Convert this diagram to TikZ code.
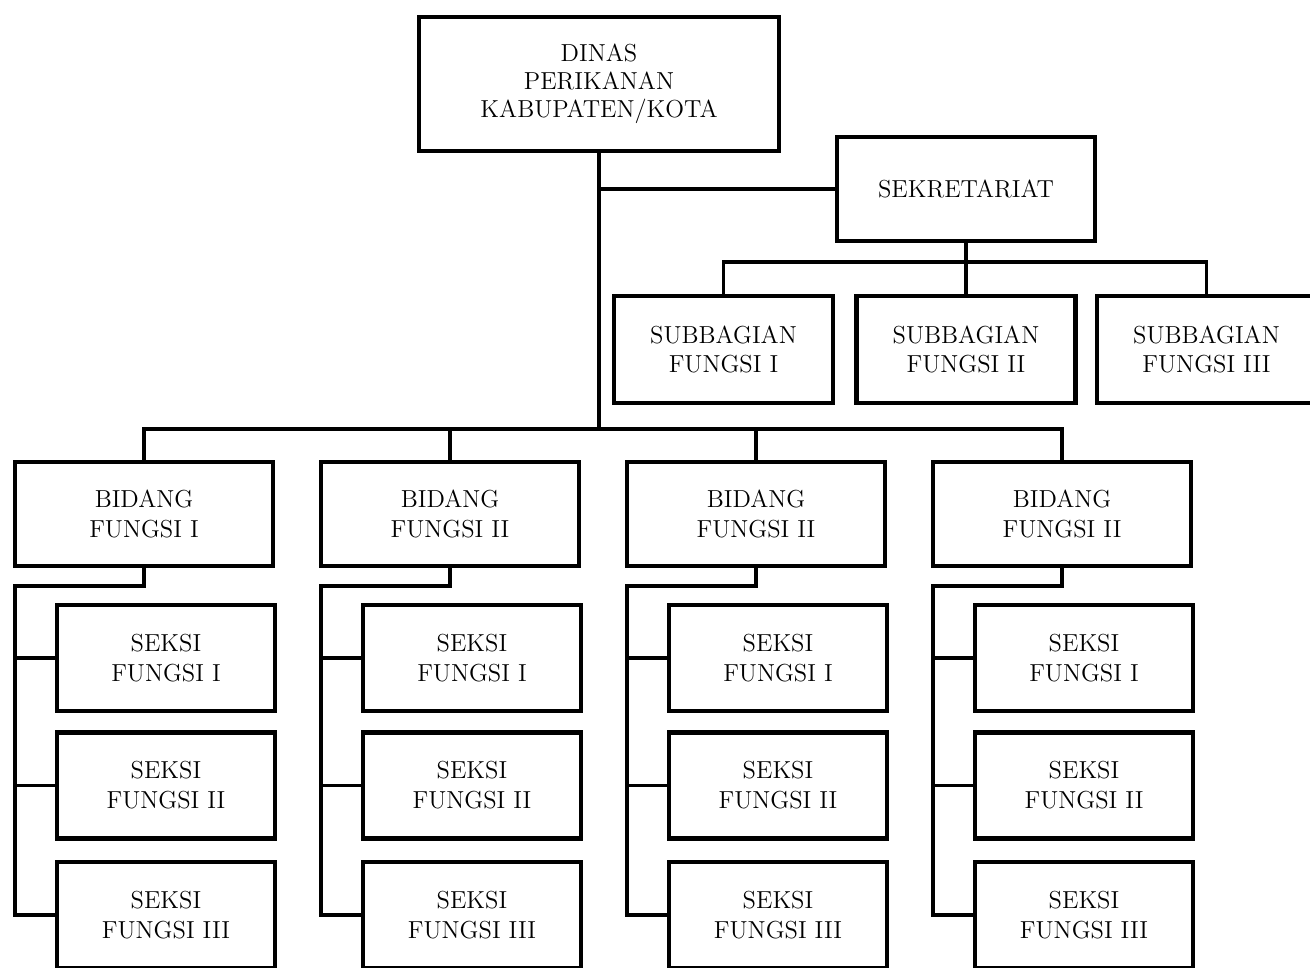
\documentclass[tikz,border=0pt]{standalone}
\usepackage{tikz}
\usetikzlibrary{positioning}

\begin{document}
\begin{tikzpicture}[x=0.02cm,y=-0.02cm]
\tikzstyle{every node}+=[inner sep=0pt,align=center,font=\fontsize{14}{17}\selectfont]
\tikzstyle{kotak}=[draw=black,line width=2.5pt]
\tikzstyle{lebar}=[kotak,minimum width=5.16cm,minimum height=2.08cm]
\tikzstyle{kecil}=[kotak,minimum width=4.38cm,minimum height=2.14cm]
\tikzstyle{seksi}=[kotak,minimum width=4.36cm,minimum height=2.12cm]
\tikzstyle{garis}=[black,line width=2.2pt]
\useasboundingbox (0,0) rectangle (1310,967);
\clip (0,0) rectangle (1310,967);
\node [kotak,minimum width=7.2cm,minimum height=2.68cm,font=\fontsize{14}{16}\selectfont] (dinas) at (599,84) {DINAS\\PERIKANAN\\KABUPATEN/KOTA};
\node [lebar] (sekretariat) at (966,189) {SEKRETARIAT};
\node [kecil] (sub1) at (723.5,349.5) {SUBBAGIAN\\FUNGSI I};
\node [kecil] (sub2) at (966,349.5) {SUBBAGIAN\\FUNGSI II};
\node [kecil] (sub3) at (1206.5,349.5) {SUBBAGIAN\\FUNGSI III};
\coordinate (cabang) at (599,429);
\coordinate (sekbar) at (966,262);
\draw [garis] (dinas.south) -- (cabang);
\draw [garis] (sekretariat.west) -- (sekretariat.west -| dinas.south);
\draw [garis] (sekretariat.south) -- (sub2.north);
\draw [garis] (sub1.north) |- (sekbar) -| (sub3.north);
\foreach \i/\x/\nama in {1/144/I,2/450/II,3/756/II,4/1062/II} {
  \node [lebar] (bidang\i) at (\x,514) {BIDANG\\FUNGSI \nama};
  \node [seksi] (seksiA\i) at (\x+22,658) {SEKSI\\FUNGSI I};
  \node [seksi] (seksiB\i) at (\x+22,785.5) {SEKSI\\FUNGSI II};
  \node [seksi] (seksiC\i) at (\x+22,915) {SEKSI\\FUNGSI III};
  \coordinate (siku\i) at (\x-129,586);
  \draw [garis] (bidang\i.north) -- (bidang\i.north |- cabang);
  \draw [garis] (bidang\i.south) |- (siku\i) |- (seksiC\i.west);
  \draw [garis] (seksiA\i.west) -- (seksiA\i.west -| siku\i);
  \draw [garis] (seksiB\i.west) -- (seksiB\i.west -| siku\i);
}
\draw [garis] (bidang1.north) |- (cabang) -| (bidang4.north);
\end{tikzpicture}
\end{document}
